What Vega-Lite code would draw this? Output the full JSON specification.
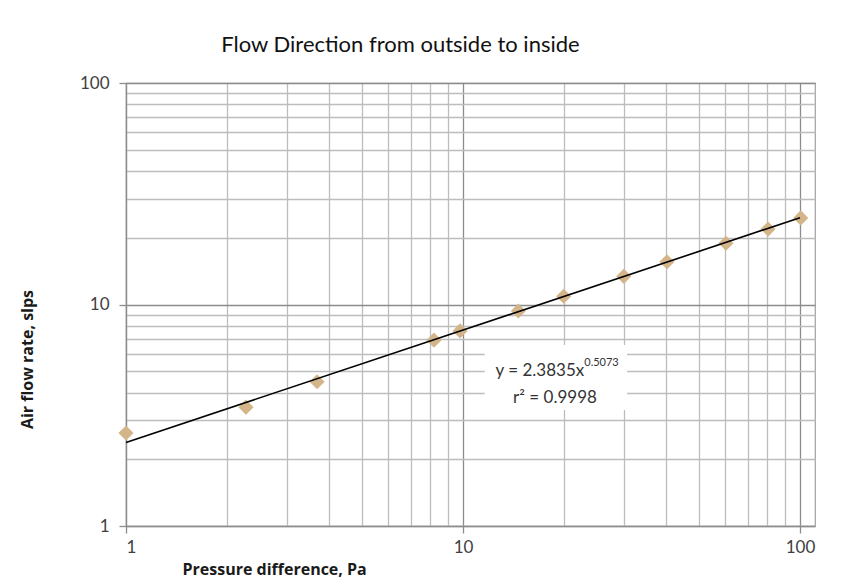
{
  "$schema": "https://vega.github.io/schema/vega-lite/v6.json",
  "width": 689,
  "height": 443,
  "autosize": "none",
  "padding": {"left": 126, "top": 83, "right": 40, "bottom": 62},
  "background": "white",
  "title": {
    "text": "Flow Direction from outside to inside",
    "font": "Lato",
    "fontSize": 22,
    "fontWeight": "normal",
    "color": "#111111",
    "anchor": "middle",
    "dx": -70,
    "offset": 17
  },
  "config": {
    "view": {"stroke": "#a0a0a0", "strokeWidth": 1.2},
    "axis": {
      "labelFont": "Lato",
      "labelFontSize": 17,
      "labelColor": "#404040",
      "titleFont": "Open Sans",
      "titleFontSize": 16,
      "titleFontWeight": "bold",
      "titleColor": "#1a1a1a",
      "domainColor": "#8c8c8c",
      "domainWidth": 1.3,
      "tickColor": "#8c8c8c",
      "tickWidth": 1.3,
      "tickSize": 7,
      "labelOverlap": false,
      "gridWidth": 1.3
    }
  },
  "encoding": {
    "x": {
      "field": "x",
      "type": "quantitative",
      "scale": {"type": "log", "domain": [1, 110.8], "nice": false},
      "axis": {
        "title": "Pressure difference, Pa",
        "values": [1, 2, 3, 4, 5, 6, 7, 8, 9, 10, 20, 30, 40, 50, 60, 70, 80, 90, 100],
        "labelExpr": "datum.value === 1 ? '1' : datum.value === 10 ? '10' : datum.value === 100 ? '100' : ''",
        "labelPadding": 6,
        "tickOpacity": {"condition": {"test": "datum.value === 1 || datum.value === 10 || datum.value === 100", "value": 1}, "value": 0},
        "grid": true,
        "gridColor": {"condition": {"test": "datum.value === 10 || datum.value === 100", "value": "#8c8c8c"}, "value": "#bdbdbd"},
        "titleAnchor": "start",
        "titleAlign": "left",
        "titleX": 56,
        "titleY": 48,
        "titleBaseline": "alphabetic"
      }
    },
    "y": {
      "field": "y",
      "type": "quantitative",
      "scale": {"type": "log", "domain": [1, 100], "nice": false},
      "axis": {
        "title": "Air flow rate, slps",
        "values": [1, 2, 3, 4, 5, 6, 7, 8, 9, 10, 20, 30, 40, 50, 60, 70, 80, 90, 100],
        "labelExpr": "datum.value === 1 ? '1' : datum.value === 10 ? '10' : datum.value === 100 ? '100' : ''",
        "labelPadding": 10,
        "tickOpacity": {"condition": {"test": "datum.value === 1 || datum.value === 10 || datum.value === 100", "value": 1}, "value": 0},
        "grid": true,
        "gridColor": {"condition": {"test": "datum.value === 10 || datum.value === 100", "value": "#8c8c8c"}, "value": "#bdbdbd"},
        "titleAngle": 270,
        "titleAlign": "center",
        "titleBaseline": "middle",
        "titleX": -99,
        "titleY": 276
      }
    }
  },
  "layer": [
    {
      "data": {"values": [
        {"x": 1, "y": 2.63},
        {"x": 2.27, "y": 3.44},
        {"x": 3.69, "y": 4.48},
        {"x": 8.2, "y": 6.9},
        {"x": 9.8, "y": 7.6},
        {"x": 14.6, "y": 9.35},
        {"x": 19.9, "y": 10.9},
        {"x": 30, "y": 13.4},
        {"x": 40.3, "y": 15.6},
        {"x": 60.3, "y": 18.9},
        {"x": 80.4, "y": 21.9},
        {"x": 100.5, "y": 24.6}
      ]},
      "mark": {"type": "point", "shape": "diamond", "filled": true, "size": 230, "color": "#d4b58a", "opacity": 1}
    },
    {
      "data": {"values": [
        {"x": 1, "y": 2.3835},
        {"x": 100, "y": 24.65}
      ]},
      "mark": {"type": "line", "color": "#000000", "strokeWidth": 1.6}
    },
    {
      "data": {"values": [
        {"x": 11.6, "x2": 30.7, "y": 3.34, "y2": 6.57}
      ]},
      "mark": {"type": "rect", "fill": "white", "stroke": null},
      "encoding": {
        "x2": {"field": "x2"},
        "y2": {"field": "y2"}
      }
    },
    {
      "data": {"values": [
        {"x": 22.9, "y": 5.0, "label": "y = 2.3835x"}
      ]},
      "mark": {"type": "text", "align": "right", "baseline": "middle", "font": "Lato", "fontSize": 17, "color": "#333333"},
      "encoding": {"text": {"field": "label"}}
    },
    {
      "data": {"values": [
        {"x": 22.9, "y": 5.44, "label": "0.5073"}
      ]},
      "mark": {"type": "text", "align": "left", "baseline": "middle", "font": "Lato", "fontSize": 11, "color": "#333333"},
      "encoding": {"text": {"field": "label"}}
    },
    {
      "data": {"values": [
        {"x": 18.75, "y": 3.78, "label": "r² = 0.9998"}
      ]},
      "mark": {"type": "text", "align": "center", "baseline": "middle", "font": "Lato", "fontSize": 17, "color": "#333333"},
      "encoding": {"text": {"field": "label"}}
    }
  ]
}
